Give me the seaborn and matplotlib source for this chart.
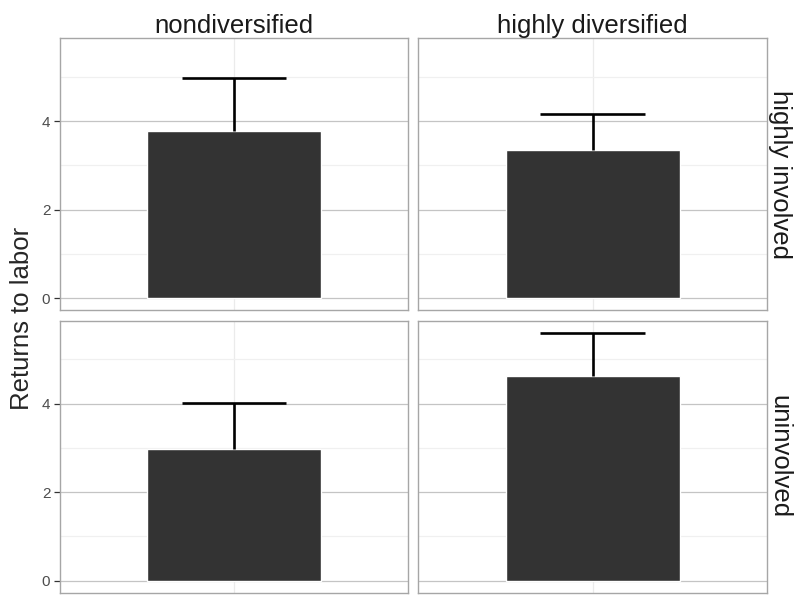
import pandas as pd
import numpy as np
import matplotlib
matplotlib.use("Agg")
import matplotlib.pyplot as plt
import seaborn as sns

# values
diversification = ["nondiversified", "highly diversified", "nondiversified", "highly diversified"]
involvement = ["highly involved", "highly involved", "uninvolved", "uninvolved"]
returns = [3.78, 3.35, 2.97, 4.63]
upper = [4.97, 4.16, 4.02, 5.60]

df = pd.DataFrame({
    "div": diversification,
    "inv": involvement,
    "grp": ["a"] * 4,
    "returns": returns,
    "upper": upper,
})

sns.set_theme(style="white")
plt.rcParams["font.family"] = ["Liberation Sans", "DejaVu Sans"]

g = sns.FacetGrid(df, row="inv", col="div",
                  row_order=["highly involved", "uninvolved"],
                  col_order=["nondiversified", "highly diversified"],
                  margin_titles=True, sharey=True, despine=False)
g.figure.set_size_inches(7.98, 5.97)


def draw(data, **kws):
    ax = plt.gca()
    sns.barplot(data=data, x="grp", y="returns", color="#333333",
                saturation=1, width=0.6, errorbar=None, ax=ax, zorder=3)
    # upper error bar only
    ax.vlines(0, data["returns"], data["upper"], color="black", lw=1.9, zorder=4)
    ax.hlines(data["upper"], -0.18, 0.18, color="black", lw=1.9, zorder=4)


g.map_dataframe(draw)

fs = 18.5
g.set_titles(row_template="{row_name}", col_template="{col_name}", size=fs)
for ax in g.axes.flat:
    ax.set_xlim(-0.6, 0.6)
    ax.set_ylim(-0.28, 5.88)
    ax.set_yticks([0, 2, 4])
    ax.set_yticks([1, 3, 5], minor=True)
    ax.set_xticks([0])
    ax.set_xticklabels([])
    ax.set_xlabel("")
    ax.set_ylabel("")
    ax.grid(True, which="major", axis="y", color="#c4c4c4", lw=0.9, zorder=0)
    ax.grid(True, which="minor", axis="y", color="#f0f0f0", lw=0.9, zorder=0)
    ax.grid(True, which="major", axis="x", color="#ebebeb", lw=0.9, zorder=0)
    ax.set_axisbelow(True)
    for s in ax.spines.values():
        s.set_color("#a6a6a6")
        s.set_linewidth(1.0)
    ax.tick_params(axis="y", which="major", length=4, width=0.9, color="#333333",
                   labelsize=11, labelcolor="#4d4d4d", left=True, pad=3)
    ax.tick_params(axis="y", which="minor", length=0)
    ax.tick_params(axis="x", length=0)

for ax in g.axes[:, 1]:
    ax.tick_params(axis="y", left=False)

for ax in g.axes[0, :]:
    ax.set_title(ax.get_title(), fontsize=fs, color="#1a1a1a", pad=1.5)
for ax in g.axes[:, 1]:
    for t in ax.texts:
        t.set_fontsize(fs)
        t.set_color("#1a1a1a")
        t.xyann = (1.002, 0.5)

g.figure.supylabel("Returns to labor", x=0.013, y=0.466, fontsize=fs, ha="left")

g.figure.subplots_adjust(left=0.0752, right=0.961, top=0.9363, bottom=0.0067,
                         wspace=0.029, hspace=0.037)

g.figure.savefig("out.png", dpi=100)
